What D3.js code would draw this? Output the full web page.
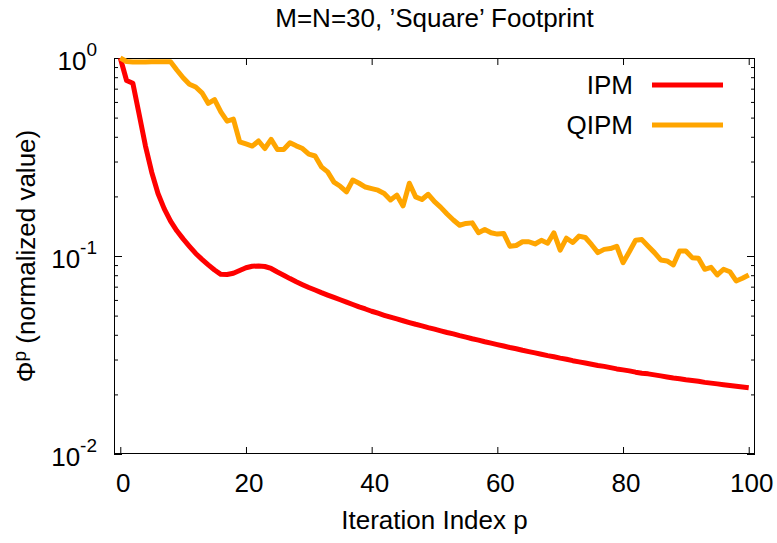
<!DOCTYPE html>
<html>
<head>
<meta charset="utf-8">
<script src="https://cdn.jsdelivr.net/npm/d3@7"></script>
<style>
  body { margin: 0; background: #fff; }
  svg text { font-family: "Liberation Sans", Arial, Helvetica, sans-serif; fill: #000; }
</style>
</head>
<body>
<svg id="chart" width="777" height="543"></svg>
<script>
// Normalized objective value per iteration (index = iteration p)
const ipmValues = [
  1.0, 0.77, 0.745, 0.52, 0.36, 0.265, 0.207, 0.173, 0.150, 0.134,
  0.122, 0.112, 0.103, 0.0962, 0.0902, 0.0850, 0.0808, 0.0806, 0.0818, 0.0845,
  0.0872, 0.0888, 0.0891, 0.0885, 0.0865, 0.0830, 0.0800, 0.0769, 0.0741, 0.0716,
  0.0693, 0.0673, 0.0653, 0.0635, 0.0618, 0.0601, 0.0585, 0.0569, 0.0553, 0.0540,
  0.0526, 0.0514, 0.0502, 0.0491, 0.0481, 0.0471, 0.0461, 0.0452, 0.0444, 0.0435,
  0.0427, 0.0419, 0.0411, 0.0404, 0.0396, 0.0389, 0.0382, 0.0376, 0.0369, 0.0363,
  0.0357, 0.0351, 0.0345, 0.0340, 0.0334, 0.0329, 0.0324, 0.0319, 0.0314, 0.0310,
  0.0305, 0.0301, 0.0296, 0.0292, 0.0288, 0.0284, 0.0280, 0.0277, 0.0273, 0.0269,
  0.0266, 0.0263, 0.0259, 0.0256, 0.0254, 0.0251, 0.0248, 0.0245, 0.0242, 0.0240,
  0.0237, 0.0235, 0.0233, 0.0230, 0.0228, 0.0226, 0.0224, 0.0222, 0.0220, 0.0218,
  0.0216
];

const qipmValues = [
  1.0, 0.96, 0.955, 0.955, 0.955, 0.957, 0.958, 0.958, 0.958, 0.87,
  0.795, 0.737, 0.714, 0.667, 0.59, 0.617, 0.534, 0.48, 0.491, 0.377,
  0.368, 0.359, 0.381, 0.349, 0.388, 0.345, 0.345, 0.373, 0.36, 0.349,
  0.327, 0.32, 0.282, 0.266, 0.236, 0.225, 0.211, 0.242, 0.233, 0.223,
  0.219, 0.215, 0.207, 0.192, 0.203, 0.179, 0.233, 0.199, 0.193, 0.205,
  0.188, 0.176, 0.163, 0.152, 0.143, 0.146, 0.147, 0.131, 0.136, 0.131,
  0.129, 0.130, 0.112, 0.113, 0.118, 0.118, 0.115, 0.120, 0.116, 0.131,
  0.107, 0.123, 0.117, 0.126, 0.124, 0.114, 0.104, 0.108, 0.109, 0.112,
  0.0925, 0.105, 0.120, 0.121, 0.112, 0.104, 0.0955, 0.0944, 0.0901, 0.106,
  0.106, 0.0981, 0.0973, 0.0857, 0.0877, 0.0802, 0.0857, 0.0833, 0.0748, 0.0772,
  0.0802
];

const seriesNames = ["IPM", "QIPM"];
const seriesColors = ["#ff0000", "#ffa500"];

const xTicks = [0, 20, 40, 60, 80, 100];
const yMajorTicks = [1, 0.1, 0.01];
const yMajorExponents = ["0", "-1", "-2"];
const yMinorTicks = [0.02, 0.03, 0.04, 0.05, 0.06, 0.07, 0.08, 0.09,
                     0.2, 0.3, 0.4, 0.5, 0.6, 0.7, 0.8, 0.9];

const titleText = "M=N=30, \u2019Square\u2019 Footprint";
const xLabel = "Iteration Index p";

// ---- layout
const W = 777, H = 543;
const plot = { left: 114, right: 755, top: 58, bottom: 454 };
const FONT = 26, SUP = 19;

const svg = d3.select("#chart");

const x = d3.scaleLinear().domain([-1, 101]).range([plot.left, plot.right]);
const y = d3.scaleLog().domain([0.01, 1]).range([plot.bottom, plot.top]);

// ---- ticks (drawn inward on all four sides)
function styleAxis(g) {
  g.select(".domain").remove();
  g.selectAll(".tick line").attr("stroke", "#000").attr("stroke-width", 1);
  g.selectAll(".tick text").remove();
}

svg.append("g").attr("transform", `translate(0,${plot.bottom})`)
  .call(d3.axisBottom(x).tickValues(xTicks).tickSizeInner(-7).tickSizeOuter(0))
  .call(g => {
    g.select(".domain").remove();
    g.selectAll(".tick line").attr("stroke", "#000");
    g.selectAll(".tick text")
      .attr("y", 38).attr("dy", null).attr("dx", 2.5)
      .attr("font-size", FONT)
      .attr("font-family", null)
      .attr("fill", "#000");
  });

svg.append("g").attr("transform", `translate(0,${plot.top})`)
  .call(d3.axisTop(x).tickValues(xTicks).tickSizeInner(-7).tickSizeOuter(0))
  .call(styleAxis);

svg.append("g").attr("transform", `translate(${plot.left},0)`)
  .call(d3.axisLeft(y).tickValues(yMajorTicks).tickSizeInner(-8).tickSizeOuter(0))
  .call(styleAxis);
svg.append("g").attr("transform", `translate(${plot.left},0)`)
  .call(d3.axisLeft(y).tickValues(yMinorTicks).tickSizeInner(-4).tickSizeOuter(0))
  .call(styleAxis);
svg.append("g").attr("transform", `translate(${plot.right},0)`)
  .call(d3.axisRight(y).tickValues(yMajorTicks).tickSizeInner(-8).tickSizeOuter(0))
  .call(styleAxis);
svg.append("g").attr("transform", `translate(${plot.right},0)`)
  .call(d3.axisRight(y).tickValues(yMinorTicks).tickSizeInner(-4).tickSizeOuter(0))
  .call(styleAxis);

// ---- y tick labels as powers of ten
const yLab = svg.append("g");
yMajorTicks.forEach((v, i) => {
  const t = yLab.append("text")
    .attr("x", 97)
    .attr("y", y(v) + 12)
    .attr("text-anchor", "end")
    .attr("font-size", FONT);
  t.append("tspan").text("10");
  t.append("tspan").attr("dy", -14).attr("font-size", SUP).text(yMajorExponents[i]);
});

// ---- frame
svg.append("rect")
  .attr("x", plot.left + 0.5).attr("y", plot.top + 0.5)
  .attr("width", plot.right - plot.left - 1).attr("height", plot.bottom - plot.top - 1)
  .attr("fill", "none").attr("stroke", "#000").attr("stroke-width", 1);

// ---- series
const line = d3.line()
  .x((d, i) => x(i))
  .y(d => y(d));

[ipmValues, qipmValues].forEach((vals, k) => {
  svg.append("path")
    .datum(vals)
    .attr("d", line)
    .attr("fill", "none")
    .attr("stroke", seriesColors[k])
    .attr("stroke-width", 5)
    .attr("stroke-linejoin", "round")
    .attr("stroke-linecap", "butt");
});

// ---- legend
const legend = svg.append("g");
seriesNames.forEach((name, k) => {
  const cy = 85 + k * 40;
  legend.append("text")
    .attr("x", 633).attr("y", cy + 9)
    .attr("text-anchor", "end")
    .attr("font-size", FONT)
    .text(name);
  legend.append("line")
    .attr("x1", 652).attr("x2", 723)
    .attr("y1", cy).attr("y2", cy)
    .attr("stroke", seriesColors[k])
    .attr("stroke-width", 5);
});

// ---- title and axis labels
svg.append("text")
  .attr("x", (plot.left + plot.right) / 2).attr("y", 27)
  .attr("text-anchor", "middle")
  .attr("font-size", FONT)
  .text(titleText);

svg.append("text")
  .attr("x", (plot.left + plot.right) / 2).attr("y", 529)
  .attr("text-anchor", "middle")
  .attr("font-size", FONT)
  .text(xLabel);

const yl = svg.append("text")
  .attr("transform", `translate(35,${(plot.top + plot.bottom) / 2}) rotate(-90)`)
  .attr("text-anchor", "middle")
  .attr("font-size", FONT);
yl.append("tspan").text("\u03A6");
yl.append("tspan").attr("dy", -9).attr("font-size", SUP).text("p");
yl.append("tspan").attr("dy", 9).text(" (normalized value)");
</script>
</body>
</html>
